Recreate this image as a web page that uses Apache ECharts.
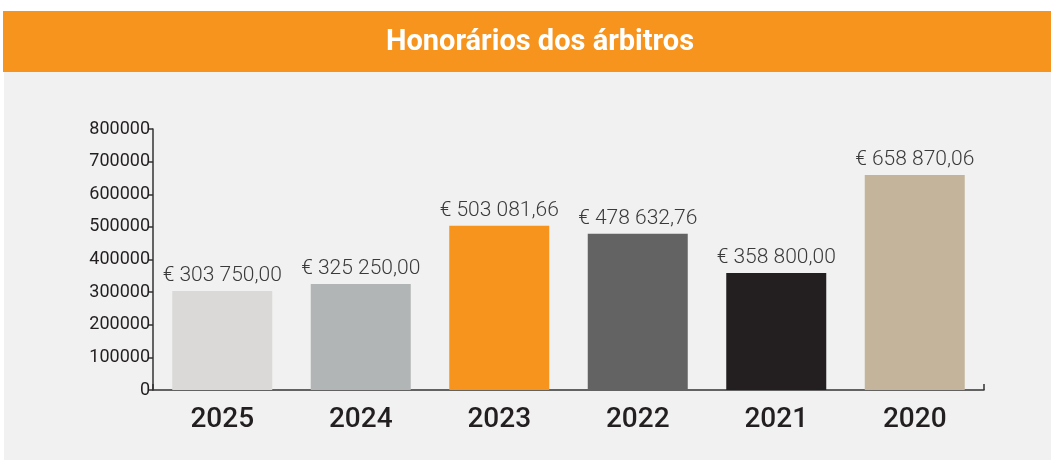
<!DOCTYPE html>
<html>
<head>
<meta charset="utf-8">
<script src="https://cdn.jsdelivr.net/npm/echarts@6/dist/echarts.min.js"></script>
<style>
  html, body { margin: 0; padding: 0; background: #fff; }
  #chart { width: 1051px; height: 460px; }
</style>
</head>
<body>
<div id="chart"></div>
<script>
// 数据
const years = ["2025", "2024", "2023", "2022", "2021", "2020"];
const fees = [303750.00, 325250.00, 503081.66, 478632.76, 358800.00, 658870.06];
const barColors = ["#dad9d7", "#b2b5b5", "#f7941d", "#636364", "#231f20", "#c4b49b"];

// € 303 750,00
function fmtEuro(v) {
  const parts = v.toFixed(2).split(".");
  const intPart = parts[0].replace(/\B(?=(\d{3})+(?!\d))/g, " ");
  return "€ " + intPart + "," + parts[1];
}

const mychart = echarts.init(document.getElementById("chart"));
mychart.setOption({
  backgroundColor: "#fff",
  animation: false,
  graphic: [
    { type: "rect", left: 4, top: 72, shape: { width: 1047, height: 388 }, style: { fill: "#f0f1f0" }, z: -10 },
    { type: "rect", left: 3, top: 11, shape: { width: 1048, height: 61 }, style: { fill: "#f7941d" }, z: -10 }
  ],
  title: {
    text: "Honorários dos árbitros",
    left: 535,
    top: 23,
    textAlign: "center",
    textStyle: {
      color: "#fff",
      fontFamily: "Roboto",
      fontWeight: "bold",
      fontSize: 29
    }
  },
  grid: { left: 153, right: 67, top: 129, bottom: 70 },
  xAxis: [
    {
      type: "category",
      data: years,
      axisLine: { lineStyle: { color: "#333", width: 1.5 } },
      axisTick: { show: false },
      axisLabel: {
        color: "#231f20",
        fontFamily: "Roboto",
        fontWeight: 500,
        fontSize: 28,
        margin: 16
      }
    },
    {
      // 只为右端的小刻度
      type: "value",
      position: "bottom",
      min: 0,
      max: 1,
      interval: 1,
      axisLine: { show: false },
      axisTick: { show: true, inside: true, length: 6, lineStyle: { color: "#333", width: 1.5 } },
      axisLabel: { show: false },
      splitLine: { show: false }
    }
  ],
  yAxis: {
    type: "value",
    min: 0,
    max: 800000,
    interval: 100000,
    axisLine: { show: true, lineStyle: { color: "#333", width: 1.5 } },
    axisTick: { show: true, length: 5, lineStyle: { color: "#333", width: 1.5 } },
    splitLine: { show: false },
    axisLabel: {
      color: "#231f20",
      fontFamily: "Roboto",
      fontSize: 18,
      margin: 3,
      formatter: (v) => String(v)
    }
  },
  series: [
    {
      type: "bar",
      xAxisIndex: 0,
      barWidth: 100,
      data: fees.map((v, i) => ({ value: v, itemStyle: { color: barColors[i] } })),
      label: {
        show: true,
        position: "top",
        distance: 5,
        formatter: (p) => fmtEuro(p.value),
        color: "#3a3a3a",
        fontFamily: "Roboto",
        fontWeight: 300,
        fontSize: 21
      }
    }
  ]
});
</script>
</body>
</html>
